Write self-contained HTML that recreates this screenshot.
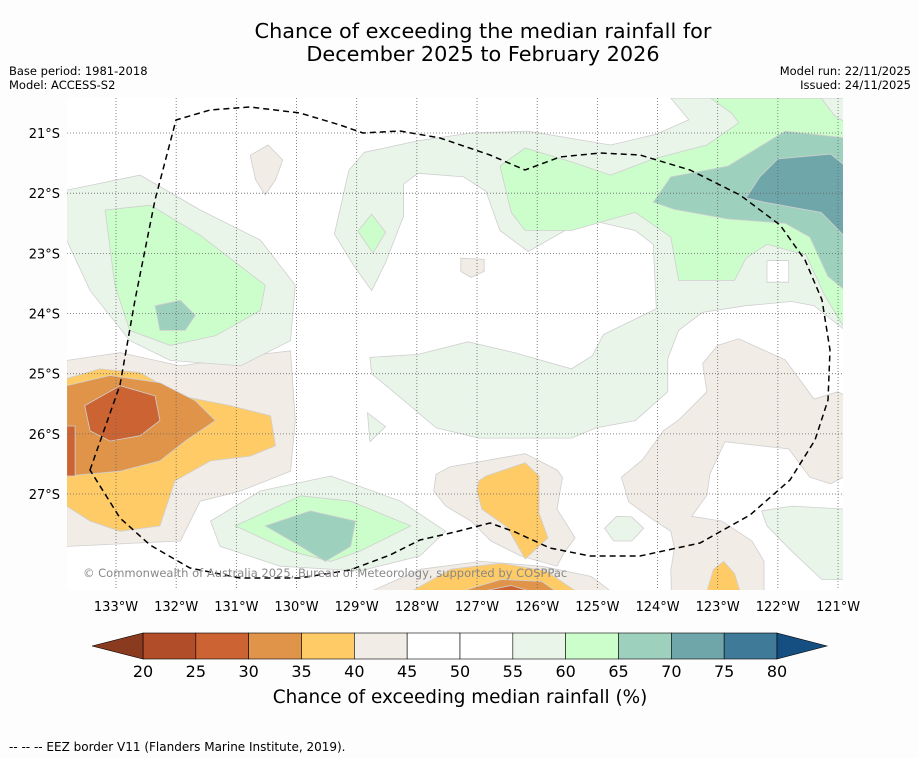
<!DOCTYPE html>
<html><head><meta charset="utf-8"><style>
html,body{margin:0;padding:0;background:#fdfdfd;}
svg{display:block;font-family:"DejaVu Sans","Liberation Sans",sans-serif;}
</style></head><body>
<svg id="chart" width="919" height="758" viewBox="0 0 919 758">
<rect width="919" height="758" fill="#fdfdfd"/>
<text x="483" y="38" font-size="20.8" text-anchor="middle" fill="#000">Chance of exceeding the median rainfall for</text>
<text x="483" y="61" font-size="20.8" text-anchor="middle" fill="#000">December 2025 to February 2026</text>
<text x="9" y="75" font-size="11.5">Base period: 1981-2018</text>
<text x="9" y="89" font-size="11.5">Model: ACCESS-S2</text>
<text x="911" y="75" font-size="11.5" text-anchor="end">Model run: 22/11/2025</text>
<text x="911" y="89" font-size="11.5" text-anchor="end">Issued: 24/11/2025</text>
<defs><clipPath id="mapclip"><rect x="67" y="98" width="776" height="492"/></clipPath></defs>
<g id="map" clip-path="url(#mapclip)">
<rect x="67" y="98" width="776" height="492" fill="#ffffff"/>
<g id="regions"></g>
<g id="grid"></g>
<path id="eez" fill="none" stroke="#000" stroke-width="1.5" stroke-dasharray="6,4"
 d="M90,470 L120,385 L135,300 L155,200 L176,120 L210,110 L250,107 L300,113 L340,125 L363,133 L400,131 L440,138 L490,155 L525,170 L560,157 L600,153 L640,155 L690,170 L740,195 L780,225 L805,260 L822,300 L830,350 L828,400 L815,440 L790,480 L750,515 L700,543 L640,556 L590,556 L550,548 L515,532 L490,523 L455,532 L420,540 L390,555 L350,570 L300,578 L240,578 L190,568 L150,545 L120,518 Z"/>
<text x="83" y="577" font-size="11.5" fill="#888">© Commonwealth of Australia 2025, Bureau of Meteorology, supported by COSPPac</text>
</g>
<g id="axes"></g>
<g id="colorbar"></g>
<text x="460" y="703" font-size="18.4" text-anchor="middle">Chance of exceeding median rainfall (%)</text>
<text x="9" y="751" font-size="12">--  --  -- EEZ border V11 (Flanders Marine Institute, 2019).</text>
</svg>
<script>
// colour scale data
const levels = [20,25,30,35,40,45,50,55,60,65,70,75,80];
const levelColors = ["#b24d29","#cb6432","#e0944a","#ffcb66","#f1ece6","#ffffff","#ffffff","#eaf5e9","#ccfecc","#9ed1bd","#6fa6aa","#3f7a99"];
const underColor = "#8a3a1e";
const overColor = "#154f82";
// axis tick data
const lonTicks = [133,132,131,130,129,128,127,126,125,124,123,122,121];
const latTicks = [21,22,23,24,25,26,27];
// contour regions: [colour band lower bound %, [[lonW, latS], ...]]
const regionLevels = [40,35,30,25,25,55,60,65,55,60,65,55,50,60,65,70,60,40,40,40,35,30,25,40,35,40,35,55,55,55];
const regionShapes = [
 [[133.82,24.78],[132.93,24.65],[131.93,24.87],[130.77,24.7],[130.1,24.62],[130.02,25.78],[130.1,26.62],[130.93,26.95],[131.6,27.12],[131.93,27.78],[133.82,27.87]],
 [[133.82,25.08],[133.27,24.92],[132.6,24.98],[131.93,25.37],[131.1,25.53],[130.43,25.7],[130.35,26.2],[130.77,26.37],[131.43,26.45],[132.02,26.78],[132.27,27.53],[132.93,27.62],[133.43,27.45],[133.82,27.2]],
 [[133.82,25.2],[133.1,25.03],[132.27,25.15],[131.68,25.45],[131.35,25.78],[131.85,26.12],[132.27,26.45],[132.93,26.62],[133.82,26.7]],
 [[133.52,25.53],[132.93,25.2],[132.35,25.37],[132.27,25.78],[132.6,26.03],[133.1,26.12],[133.43,25.95]],
 [[133.82,25.87],[133.68,25.87],[133.68,26.7],[133.82,26.7]],
 [[133.82,21.95],[132.6,21.7],[131.6,22.28],[130.6,22.78],[130.02,23.53],[130.1,24.45],[130.93,24.87],[132.1,24.78],[132.77,24.45],[133.43,23.62],[133.82,22.78]],
 [[133.18,22.28],[132.43,22.2],[131.6,22.7],[130.52,23.53],[130.6,23.95],[131.35,24.37],[132.1,24.53],[132.77,24.28],[133.02,23.53]],
 [[132.35,23.87],[131.93,23.78],[131.68,24.03],[131.85,24.28],[132.27,24.28]],
 [[131.43,27.45],[130.6,26.95],[129.43,26.7],[128.27,27.12],[127.52,27.62],[127.95,28.03],[128.95,28.28],[130.27,28.2],[131.27,27.87]],
 [[131.02,27.53],[129.93,27.03],[129.1,27.12],[128.1,27.53],[128.95,27.95],[129.43,28.12],[130.1,27.95]],
 [[130.52,27.53],[129.77,27.28],[129.02,27.45],[129.1,27.87],[129.52,28.12],[129.93,27.87]],
 [[129.13,21.62],[128.87,21.32],[127.98,21.13],[127.1,21.0],[126.15,20.97],[124.78,21.2],[124.02,21.02],[123.48,20.78],[123.78,20.42],[120.88,20.42],[120.88,24.28],[121.4,23.87],[121.77,23.8],[122.53,23.87],[123.25,23.98],[123.65,24.28],[123.83,24.75],[123.83,25.3],[124.37,25.78],[125.02,25.9],[125.43,26.07],[126.97,26.07],[127.68,25.9],[128.15,25.5],[128.75,25.0],[128.78,24.73],[127.98,24.68],[127.15,24.47],[126.38,24.65],[125.43,24.92],[125.08,24.7],[124.9,24.35],[124.02,23.92],[124.07,22.85],[124.37,22.62],[125.2,22.43],[126.15,22.97],[126.62,22.62],[126.85,21.97],[127.22,21.73],[127.98,21.67],[128.22,21.85],[128.22,22.38],[128.52,23.15],[128.75,23.62],[129.05,23.2],[129.37,22.68]],
 [[122.18,23.12],[121.82,23.12],[121.82,23.48],[122.18,23.48]],
 [[126.62,21.55],[126.2,21.25],[125.43,21.48],[124.78,21.7],[124.07,21.43],[123.18,21.2],[122.65,20.83],[122.77,20.67],[123.12,20.42],[121.28,20.42],[121.05,20.72],[120.88,20.82],[120.88,24.27],[121.23,23.68],[121.53,23.03],[122.18,22.85],[122.53,23.08],[122.72,23.45],[123.65,23.45],[123.78,22.73],[124.37,22.32],[125.43,22.62],[126.2,22.62],[126.43,22.32]],
 [[124.07,22.15],[123.78,21.73],[122.83,21.55],[121.88,20.97],[120.88,21.08],[120.88,23.62],[121.17,23.38],[121.47,22.73],[121.88,22.5],[122.83,22.43],[123.72,22.27]],
 [[122.53,22.08],[122.3,21.73],[122,21.43],[121.12,21.35],[120.88,21.55],[120.88,22.73],[121.28,22.32],[122.23,22.15]],
 [[128.75,22.35],[128.52,22.65],[128.73,23.0],[128.98,22.63]],
 [[127.27,23.08],[126.88,23.1],[126.88,23.3],[127.1,23.4],[127.27,23.3]],
 [[130.77,21.37],[130.47,21.2],[130.23,21.45],[130.35,21.78],[130.52,22.03],[130.68,21.78]],
 [[128.77,28.62],[127.93,28.25],[126.93,28.12],[125.93,28.2],[125.1,28.37],[124.77,28.62]],
 [[128.1,28.62],[127.43,28.25],[126.6,28.15],[125.85,28.28],[125.35,28.62]],
 [[127.27,28.62],[126.6,28.42],[125.93,28.45],[125.68,28.62]],
 [[126.93,28.62],[126.43,28.52],[126.1,28.62]],
 [[127.68,26.67],[127.45,26.55],[126.2,26.33],[125.67,26.6],[125.58,26.72],[125.67,27.25],[125.37,27.73],[125.55,27.97],[125.67,28.2],[126.27,28.03],[126.77,27.78],[127.1,27.45],[127.52,27.2],[127.72,26.95]],
 [[126.97,26.78],[126.85,26.7],[126.2,26.48],[125.97,26.7],[125.97,27.32],[125.82,27.73],[126.2,28.08],[126.5,27.55],[126.92,27.25],[127.0,26.95]],
 [[124.6,26.72],[124.25,26.43],[123.9,25.95],[123.65,25.77],[123.18,25.3],[123.25,24.83],[123.0,24.53],[122.65,24.42],[121.88,24.77],[121.4,25.42],[121.0,25.3],[120.88,25.37],[120.88,26.7],[121.12,26.83],[121.47,26.72],[121.82,26.25],[122.27,26.2],[122.88,26.13],[123.13,26.67],[123.18,27.02],[123.43,27.37],[122.93,27.45],[122.43,27.78],[122.23,28.12],[122.23,28.62],[123.77,28.62],[123.78,28.27],[123.72,27.9],[123.78,27.62],[124.07,27.43],[124.48,27.13]],
 [[123.18,28.62],[123.07,28.25],[122.9,28.12],[122.72,28.32],[122.63,28.62]],
 [[124.88,27.57],[124.68,27.37],[124.43,27.38],[124.23,27.57],[124.43,27.78],[124.73,27.78]],
 [[122.27,27.28],[121.77,27.2],[120.88,27.25],[120.88,28.42],[121.27,28.42],[121.77,27.95],[122.18,27.53]],
 [[128.82,25.65],[128.52,25.88],[128.78,26.13]]
];
const NS="http://www.w3.org/2000/svg";
const PX=60.17;
function xLon(lon){return 116+(133-lon)*PX;}
function yLat(lat){return 133+(lat-21)*PX;}
function colorFor(v){const i=levels.indexOf(v);return i>=0&&i<levelColors.length?levelColors[i]:"#fff";}
const rg=document.getElementById('regions');
regionShapes.forEach((shape,i)=>{
  const p=document.createElementNS(NS,'polygon');
  p.setAttribute('points',shape.map(q=>xLon(q[0]).toFixed(1)+','+yLat(q[1]).toFixed(1)).join(' '));
  p.setAttribute('fill',colorFor(regionLevels[i]));
  p.setAttribute('stroke','#cfcfcf');
  p.setAttribute('stroke-width','0.8');
  
  
  rg.appendChild(p);
});
const gg=document.getElementById('grid');
lonTicks.forEach(l=>{
  const ln=document.createElementNS(NS,'line');
  ln.setAttribute('x1',xLon(l));ln.setAttribute('x2',xLon(l));ln.setAttribute('y1',98);ln.setAttribute('y2',590);
  ln.setAttribute('stroke','#666');ln.setAttribute('stroke-width','0.8');ln.setAttribute('stroke-dasharray','1,2');
  
  
  gg.appendChild(ln);
});
latTicks.forEach(l=>{
  const ln=document.createElementNS(NS,'line');
  ln.setAttribute('y1',yLat(l));ln.setAttribute('y2',yLat(l));ln.setAttribute('x1',67);ln.setAttribute('x2',843);
  ln.setAttribute('stroke','#666');ln.setAttribute('stroke-width','0.8');ln.setAttribute('stroke-dasharray','1,2');
  
  
  gg.appendChild(ln);
});
const ax=document.getElementById('axes');
lonTicks.forEach(l=>{
  const t=document.createElementNS(NS,'text');
  t.setAttribute('x',xLon(l));t.setAttribute('y',611);t.setAttribute('font-size','13');t.setAttribute('text-anchor','middle');
  t.textContent=l+'°W';
  
  
  ax.appendChild(t);
});
latTicks.forEach(l=>{
  const t=document.createElementNS(NS,'text');
  t.setAttribute('x',60);t.setAttribute('y',yLat(l)+5);t.setAttribute('font-size','13');t.setAttribute('text-anchor','end');
  t.textContent=l+'°S';
  
  
  ax.appendChild(t);
});
// colorbar
const cb=document.getElementById('colorbar');
const cbX0=143, cbX1=777, cbY=633, cbH=26;
function cbX(v){return cbX0+(v-levels[0])/(levels[levels.length-1]-levels[0])*(cbX1-cbX0);}
levelColors.forEach((c,i)=>{
  const r=document.createElementNS(NS,'rect');
  r.setAttribute('x',cbX(levels[i]));r.setAttribute('y',cbY);
  r.setAttribute('width',cbX(levels[i+1])-cbX(levels[i]));r.setAttribute('height',cbH);
  r.setAttribute('fill',c);r.setAttribute('stroke','#000');r.setAttribute('stroke-width','0.6');
  
  
  cb.appendChild(r);
});
const tl=document.createElementNS(NS,'polygon');
tl.setAttribute('points',`${cbX0},${cbY} 92,${cbY+cbH/2} ${cbX0},${cbY+cbH}`);
tl.setAttribute('fill',underColor);tl.setAttribute('stroke','#000');tl.setAttribute('stroke-width','0.6');


cb.appendChild(tl);
const tr=document.createElementNS(NS,'polygon');
tr.setAttribute('points',`${cbX1},${cbY} 827,${cbY+cbH/2} ${cbX1},${cbY+cbH}`);
tr.setAttribute('fill',overColor);tr.setAttribute('stroke','#000');tr.setAttribute('stroke-width','0.6');


cb.appendChild(tr);
levels.forEach(v=>{
  const t=document.createElementNS(NS,'text');
  t.setAttribute('x',cbX(v));t.setAttribute('y',677);t.setAttribute('font-size','16');t.setAttribute('text-anchor','middle');
  t.textContent=v;
  
  
  cb.appendChild(t);
});
</script>
</body></html>
